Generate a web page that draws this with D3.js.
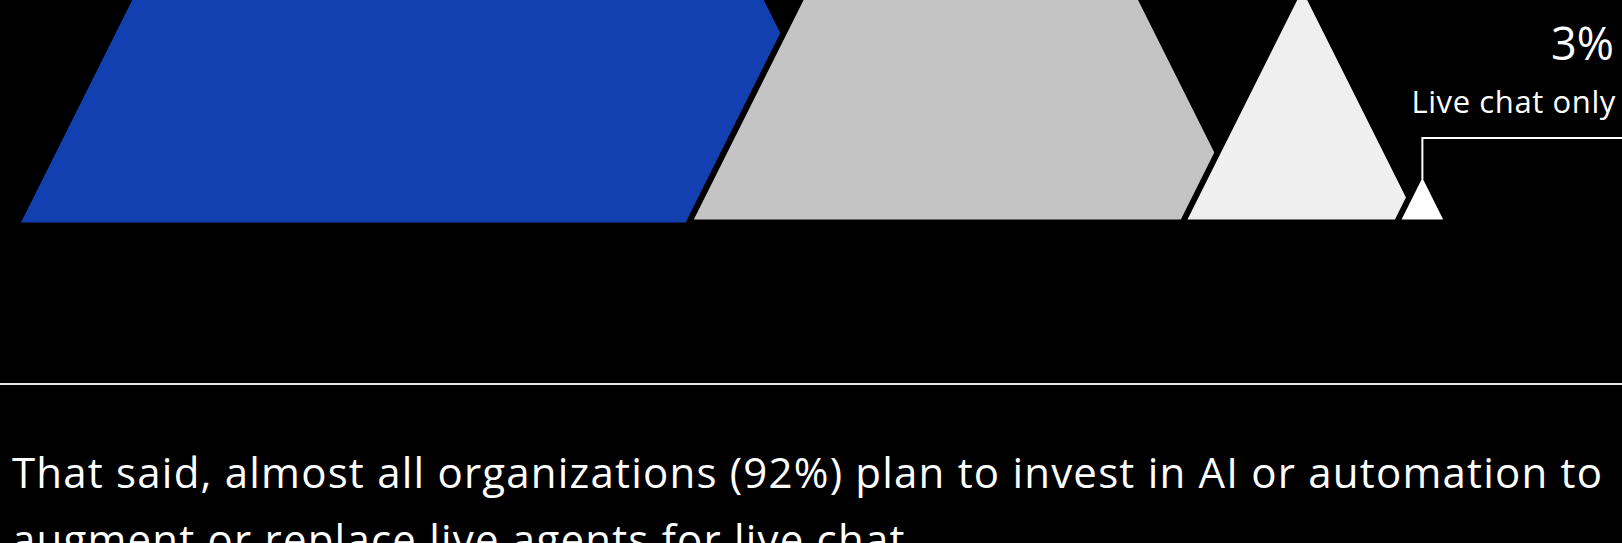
<!DOCTYPE html>
<html>
<head>
<meta charset="utf-8">
<script src="https://cdn.jsdelivr.net/npm/d3@7"></script>
<style>
  html, body { margin: 0; padding: 0; background: #000; }
  svg { display: block; }
  text { font-family: "Open Sans", Lato, sans-serif; font-weight: 400; fill: #fff; }
</style>
</head>
<body>
<svg id="chart" width="1622" height="543"></svg>
<script>
// Parcelas (percentual) — da esquerda para a direita
const shareValues = [50, 33, 14, 3];
const shareColors = ["#1340b0", "#c4c4c4", "#efefef", "#ffffff"];
const calloutLabel = "Live chat only";
const bodyLines = [
  "That said, almost all organizations (92%) plan to invest in AI or automation to",
  "augment or replace live agents for live chat."
];

const W = 1622, H = 543;
const BASELINE = 222.5;
const LEFT = 21;
// sobreposição de cada triângulo sobre o anterior (px)
const OVERLAPS = [0, 186, 70, 25];

const svg = d3.select("#chart");

// ajusta o espaçamento entre letras para a largura desejada
function fitWidth(sel, target) {
  sel.each(function () {
    const len = this.getComputedTextLength();
    const n = this.textContent.length;
    if (n > 1) d3.select(this).attr("letter-spacing", (target - len) / (n - 1));
  });
}

// altura proporcional ao valor; base = altura (lados com inclinação 0.5)
const hScale = d3.scaleLinear().domain([0, 100]).range([0, 1708]);

let x = LEFT;
const peaks = shareValues.map((v, i) => {
  const h = hScale(v);
  if (i > 0) x -= OVERLAPS[i];
  const p = { value: v, left: x, width: h, height: h, color: shareColors[i], i };
  x += h;
  return p;
});

svg.append("g")
  .selectAll("path")
  .data(peaks)
  .join("path")
  .attr("d", (d) => {
    const path = d3.path();
    path.moveTo(d.left, BASELINE);
    path.lineTo(d.left + d.width / 2, BASELINE - d.height);
    path.lineTo(d.left + d.width, BASELINE);
    path.closePath();
    return path.toString();
  })
  .attr("fill", (d) => d.color)
  .attr("stroke", (d) => (d.i === 0 ? "none" : "#000"))
  .attr("stroke-width", 6)
  .attr("stroke-linejoin", "miter");

// chamada para o menor valor
const last = peaks[peaks.length - 1];
const cx = last.left + last.width / 2;
const leaderY = 138;

svg.append("path")
  .attr("d", `M${cx},${BASELINE - last.height + 8}V${leaderY}H${W}`)
  .attr("fill", "none")
  .attr("stroke", "#fff")
  .attr("stroke-width", 2);

svg.append("text")
  .attr("x", 1614)
  .attr("y", 60)
  .attr("text-anchor", "end")
  .style("font-size", "45px")
  .text(d3.format(".0f")(last.value) + "%")
  .call(fitWidth, 63);

svg.append("text")
  .attr("x", 1616)
  .attr("y", 113)
  .attr("text-anchor", "end")
  .style("font-size", "31px")
  .text(calloutLabel)
  .call(fitWidth, 204);

// divisória
svg.append("line")
  .attr("x1", 0).attr("x2", W)
  .attr("y1", 384).attr("y2", 384)
  .attr("stroke", "#e8e8e8")
  .attr("stroke-width", 2);

const body = svg.append("g")
  .selectAll("text")
  .data(bodyLines)
  .join("text")
  .attr("x", 12)
  .attr("y", (d, i) => 488 + i * 67)
  .style("font-size", "42px")
  .text((d) => d);

// mesma largura por caractere na segunda linha
const line1 = body.nodes()[0];
const ls = (1590 - line1.getComputedTextLength()) / (bodyLines[0].length - 1);
body.attr("letter-spacing", ls);
</script>
</body>
</html>
